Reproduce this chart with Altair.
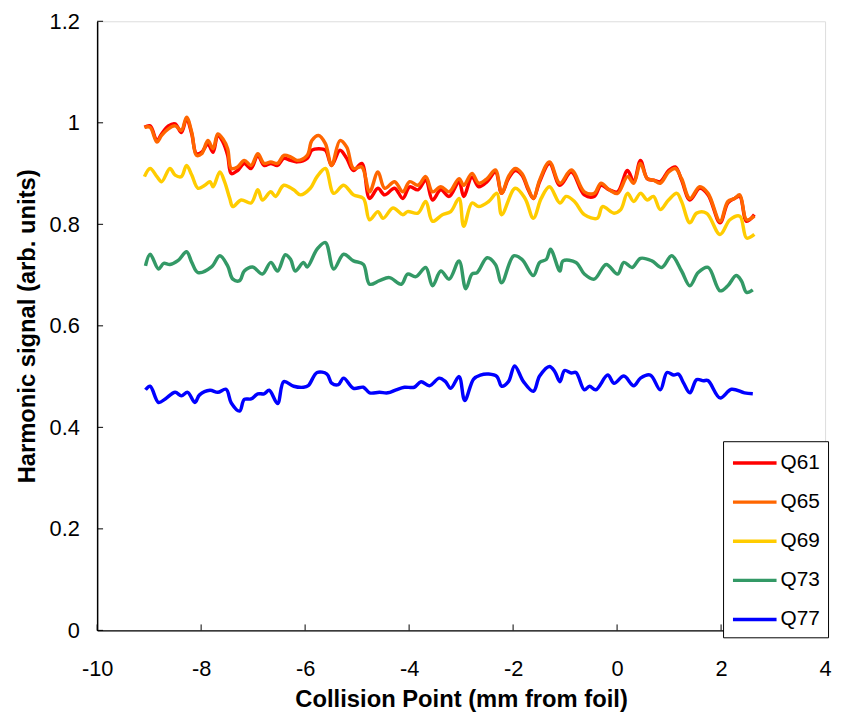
import altair as alt
import pandas as pd

series_names = ["Q61", "Q65", "Q69", "Q73", "Q77"]
series_colors = ["#FF0000", "#FF6600", "#FFCC00", "#339966", "#0000FF"]

q65 = [(-9.09,.991),(-8.98,.991),(-8.85,.962),(-8.76,.975),(-8.63,.988),(-8.50,.994),(-8.38,.985),(-8.28,1.011),
       (-8.18,.981),(-8.09,.936),(-7.99,.939),(-7.87,.965),(-7.77,.949),(-7.68,.978),(-7.58,.968),(-7.49,.949),
       (-7.42,.910),(-7.30,.913),(-7.17,.926),(-7.04,.916),(-6.91,.939),(-6.79,.920),(-6.66,.923),(-6.53,.920),
       (-6.41,.936),(-6.28,.933),(-6.15,.926),(-5.96,.936),(-5.87,.965),(-5.74,.975),(-5.61,.959),(-5.49,.916),
       (-5.33,.965),(-5.20,.952),(-5.07,.910),(-4.91,.913),(-4.76,.864),(-4.60,.903),(-4.47,.871),(-4.28,.884),
       (-4.12,.864),(-3.99,.884),(-3.83,.877),(-3.68,.894),(-3.55,.864),(-3.39,.874),(-3.23,.864),(-3.04,.890),
       (-2.95,.877),(-2.79,.900),(-2.66,.881),(-2.50,.890),(-2.34,.907),(-2.22,.861),(-2.09,.894),(-1.96,.910),
       (-1.83,.900),(-1.71,.871),(-1.61,.851),(-1.49,.887),(-1.30,.923),(-1.10,.881),(-0.88,.907),(-0.63,.864),
       (-0.44,.861),(-0.31,.881),(-0.15,.868),(0.01,.861),(0.20,.894),(0.32,.881),(0.45,.920),(0.58,.890),
       (0.70,.887),(0.83,.881),(0.99,.903),(1.12,.910),(1.24,.890),(1.40,.851),(1.59,.874),(1.75,.861),
       (1.98,.806),(2.13,.845),(2.26,.851),(2.36,.858),(2.49,.809),(2.64,.816)]

q61 = [(-9.09,.991),(-8.98,.994),(-8.85,.965),(-8.76,.978),(-8.63,.994),(-8.50,.998),(-8.38,.981),(-8.28,1.008),
       (-8.18,.978),(-8.09,.939),(-7.99,.942),(-7.87,.958),(-7.77,.942),(-7.68,.975),(-7.58,.962),(-7.49,.936),
       (-7.42,.900),(-7.30,.906),(-7.17,.920),(-7.04,.910),(-6.91,.936),(-6.79,.916),(-6.66,.920),(-6.53,.916),
       (-6.41,.930),(-6.28,.926),(-6.15,.923),(-5.96,.930),(-5.87,.946),(-5.74,.949),(-5.61,.946),(-5.49,.916),
       (-5.33,.946),(-5.20,.930),(-5.07,.906),(-4.91,.920),(-4.76,.851),(-4.60,.871),(-4.47,.858),(-4.28,.871),
       (-4.12,.851),(-3.99,.874),(-3.83,.868),(-3.68,.887),(-3.55,.848),(-3.39,.868),(-3.23,.855),(-3.04,.884),
       (-2.95,.855),(-2.79,.893),(-2.66,.874),(-2.50,.884),(-2.34,.903),(-2.22,.861),(-2.09,.890),(-1.96,.906),
       (-1.83,.897),(-1.71,.868),(-1.61,.851),(-1.49,.884),(-1.30,.920),(-1.10,.877),(-0.88,.903),(-0.63,.858),
       (-0.44,.855),(-0.31,.877),(-0.15,.868),(0.01,.864),(0.20,.906),(0.32,.884),(0.45,.926),(0.58,.890),
       (0.70,.887),(0.83,.884),(0.99,.906),(1.12,.913),(1.24,.887),(1.40,.848),(1.59,.871),(1.75,.858),
       (1.98,.803),(2.13,.842),(2.26,.851),(2.36,.855),(2.49,.806),(2.64,.819)]

q69 = [(-9.09,.894),(-8.98,.910),(-8.85,.894),(-8.76,.884),(-8.60,.910),(-8.50,.897),(-8.38,.894),(-8.28,.916),
       (-8.18,.897),(-8.06,.871),(-7.93,.877),(-7.83,.884),(-7.77,.874),(-7.64,.903),(-7.55,.884),(-7.45,.851),
       (-7.39,.835),(-7.23,.848),(-7.04,.842),(-6.91,.868),(-6.82,.848),(-6.66,.864),(-6.57,.855),(-6.41,.877),
       (-6.22,.868),(-6.09,.858),(-5.90,.871),(-5.77,.894),(-5.61,.910),(-5.45,.861),(-5.26,.877),(-5.07,.858),
       (-4.88,.851),(-4.76,.809),(-4.60,.825),(-4.50,.812),(-4.31,.832),(-4.12,.819),(-4.03,.825),(-3.83,.822),
       (-3.68,.845),(-3.55,.806),(-3.36,.819),(-3.20,.825),(-3.04,.851),(-2.95,.796),(-2.79,.842),(-2.66,.835),
       (-2.47,.845),(-2.31,.861),(-2.22,.819),(-1.96,.871),(-1.77,.851),(-1.61,.812),(-1.46,.851),(-1.30,.874),
       (-1.10,.842),(-0.98,.855),(-0.82,.845),(-0.63,.819),(-0.38,.812),(-0.28,.835),(-0.06,.822),(0.07,.829),
       (0.20,.861),(0.32,.845),(0.45,.861),(0.58,.848),(0.70,.855),(0.83,.829),(0.99,.848),(1.15,.861),
       (1.24,.845),(1.40,.803),(1.53,.822),(1.72,.822),(1.98,.780),(2.17,.809),(2.36,.816),(2.49,.773),(2.64,.780)]

q73 = [(-9.07,.718),(-8.98,.741),(-8.82,.712),(-8.72,.723),(-8.60,.721),(-8.44,.729),(-8.28,.746),(-8.18,.725),
       (-8.06,.705),(-7.80,.716),(-7.64,.738),(-7.49,.718),(-7.39,.692),(-7.26,.689),(-7.17,.708),(-7.01,.716),
       (-6.82,.702),(-6.66,.725),(-6.53,.708),(-6.38,.740),(-6.28,.731),(-6.19,.708),(-6.03,.725),(-5.96,.716),
       (-5.77,.751),(-5.61,.764),(-5.45,.712),(-5.26,.741),(-5.07,.728),(-4.88,.721),(-4.76,.682),(-4.57,.689),
       (-4.38,.695),(-4.15,.682),(-4.03,.702),(-3.87,.697),(-3.68,.715),(-3.55,.679),(-3.39,.708),(-3.23,.692),
       (-3.04,.728),(-2.91,.673),(-2.79,.702),(-2.69,.705),(-2.50,.734),(-2.34,.721),(-2.22,.685),(-1.99,.738),
       (-1.83,.731),(-1.61,.699),(-1.49,.725),(-1.36,.731),(-1.28,.751),(-1.10,.708),(-1.04,.728),(-0.79,.725),
       (-0.63,.702),(-0.44,.692),(-0.21,.721),(0.01,.702),(0.13,.725),(0.29,.715),(0.45,.733),(0.67,.728),
       (0.86,.715),(1.05,.738),(1.24,.708),(1.40,.679),(1.56,.705),(1.75,.715),(1.98,.669),(2.13,.679),
       (2.29,.699),(2.39,.689),(2.49,.666),(2.61,.671)]

q77 = [(-9.07,.474),(-8.98,.481),(-8.82,.449),(-8.69,.456),(-8.50,.469),(-8.38,.462),(-8.26,.469),(-8.12,.449),
       (-8.03,.464),(-7.83,.473),(-7.68,.469),(-7.52,.475),(-7.42,.448),(-7.26,.432),(-7.17,.455),(-7.04,.456),
       (-6.91,.466),(-6.79,.466),(-6.69,.473),(-6.53,.447),(-6.41,.490),(-6.22,.481),(-6.03,.479),(-5.94,.482),
       (-5.77,.508),(-5.58,.505),(-5.49,.487),(-5.36,.484),(-5.26,.497),(-5.07,.477),(-4.88,.479),(-4.76,.468),
       (-4.57,.469),(-4.41,.468),(-4.25,.474),(-4.09,.479),(-3.90,.479),(-3.77,.490),(-3.61,.482),(-3.42,.497),
       (-3.30,.490),(-3.20,.477),(-3.04,.500),(-2.93,.453),(-2.76,.495),(-2.63,.503),(-2.47,.505),(-2.31,.500),
       (-2.22,.481),(-2.09,.490),(-1.97,.521),(-1.80,.490),(-1.61,.471),(-1.49,.501),(-1.30,.520),(-1.20,.510),
       (-1.10,.490),(-1.01,.512),(-0.88,.507),(-0.79,.508),(-0.63,.474),(-0.53,.481),(-0.41,.474),(-0.18,.503),
       (-0.06,.487),(0.13,.501),(0.32,.482),(0.45,.497),(0.64,.503),(0.83,.474),(0.96,.508),(1.09,.503),
       (1.18,.505),(1.28,.487),(1.40,.468),(1.53,.494),(1.66,.492),(1.75,.492),(1.98,.458),(2.20,.475),
       (2.45,.468),(2.61,.466)]

x_ticks = [-10, -8, -6, -4, -2, 0, 2, 4]
y_ticks = [0, 0.2, 0.4, 0.6, 0.8, 1.0, 1.2]

rows = []
for name, pts in zip(series_names, [q61, q65, q69, q73, q77]):
    for i, (xv, yv) in enumerate(pts):
        rows.append({"series": name, "x": xv, "y": yv, "order": i})
df = pd.DataFrame(rows)

FONT = "Liberation Sans"
W, H = 735, 615

xscale = alt.Scale(domain=[-10, 4], nice=False, zero=False)
yscale = alt.Scale(domain=[0, 1.2], nice=False, zero=False)

lines = alt.Chart(df).mark_line(strokeWidth=3.5, interpolate="catmull-rom").encode(
    x=alt.X("x:Q", scale=xscale,
            axis=alt.Axis(values=x_ticks, title="Collision Point (mm from foil)", grid=False,
                          ticks=False, labelPadding=29, domainColor="black", domainWidth=1.5,
                          labelFontSize=22, labelColor="black", labelFont=FONT,
                          labelExpr="'' + datum.value", labelFlush=False, labelOverlap=False,
                          titleFontSize=24, titleFont=FONT, titleFontWeight="bold",
                          titleColor="black", titlePadding=8)),
    y=alt.Y("y:Q", scale=yscale,
            axis=alt.Axis(values=y_ticks, title="Harmonic signal (arb. units)", grid=False,
                          ticks=False, labelPadding=18, domainColor="black", domainWidth=1.5,
                          labelFontSize=22, labelColor="black", labelFont=FONT,
                          labelExpr="'' + datum.value", labelFlush=False, labelOverlap=False,
                          titleFontSize=24, titleFont=FONT, titleFontWeight="bold",
                          titleColor="black", titlePadding=10)),
    color=alt.Color("series:N", scale=alt.Scale(domain=series_names, range=series_colors),
                    legend=alt.Legend(title=None, orient="none", legendX=632, legendY=424,
                                      strokeColor="black", fillColor="white", padding=8,
                                      symbolType="M-1,0H2.667", symbolSize=576, symbolStrokeWidth=3.5,
                                      labelFontSize=21, labelFont=FONT, labelColor="black",
                                      rowPadding=15.5, labelOffset=22)),
    detail="series:N",
    order="order:Q",
)

xt = alt.Chart(pd.DataFrame({"v": x_ticks})).mark_rule(color="black", strokeWidth=1).encode(
    x=alt.X("v:Q", scale=xscale), y=alt.value(H), y2=alt.value(H - 6))
yt = alt.Chart(pd.DataFrame({"v": y_ticks})).mark_rule(color="black", strokeWidth=1).encode(
    y=alt.Y("v:Q", scale=yscale), x=alt.value(0), x2=alt.value(6))

chart = alt.layer(lines, xt, yt).properties(
    width=W, height=H,
    padding={"left": 90, "top": 10, "right": 8, "bottom": 80},
    autosize=alt.AutoSizeParams(type="none"),
).configure_view(stroke=None).configure(background="white")

chart.save("out.html", embed_options={"renderer": "svg", "actions": False})
